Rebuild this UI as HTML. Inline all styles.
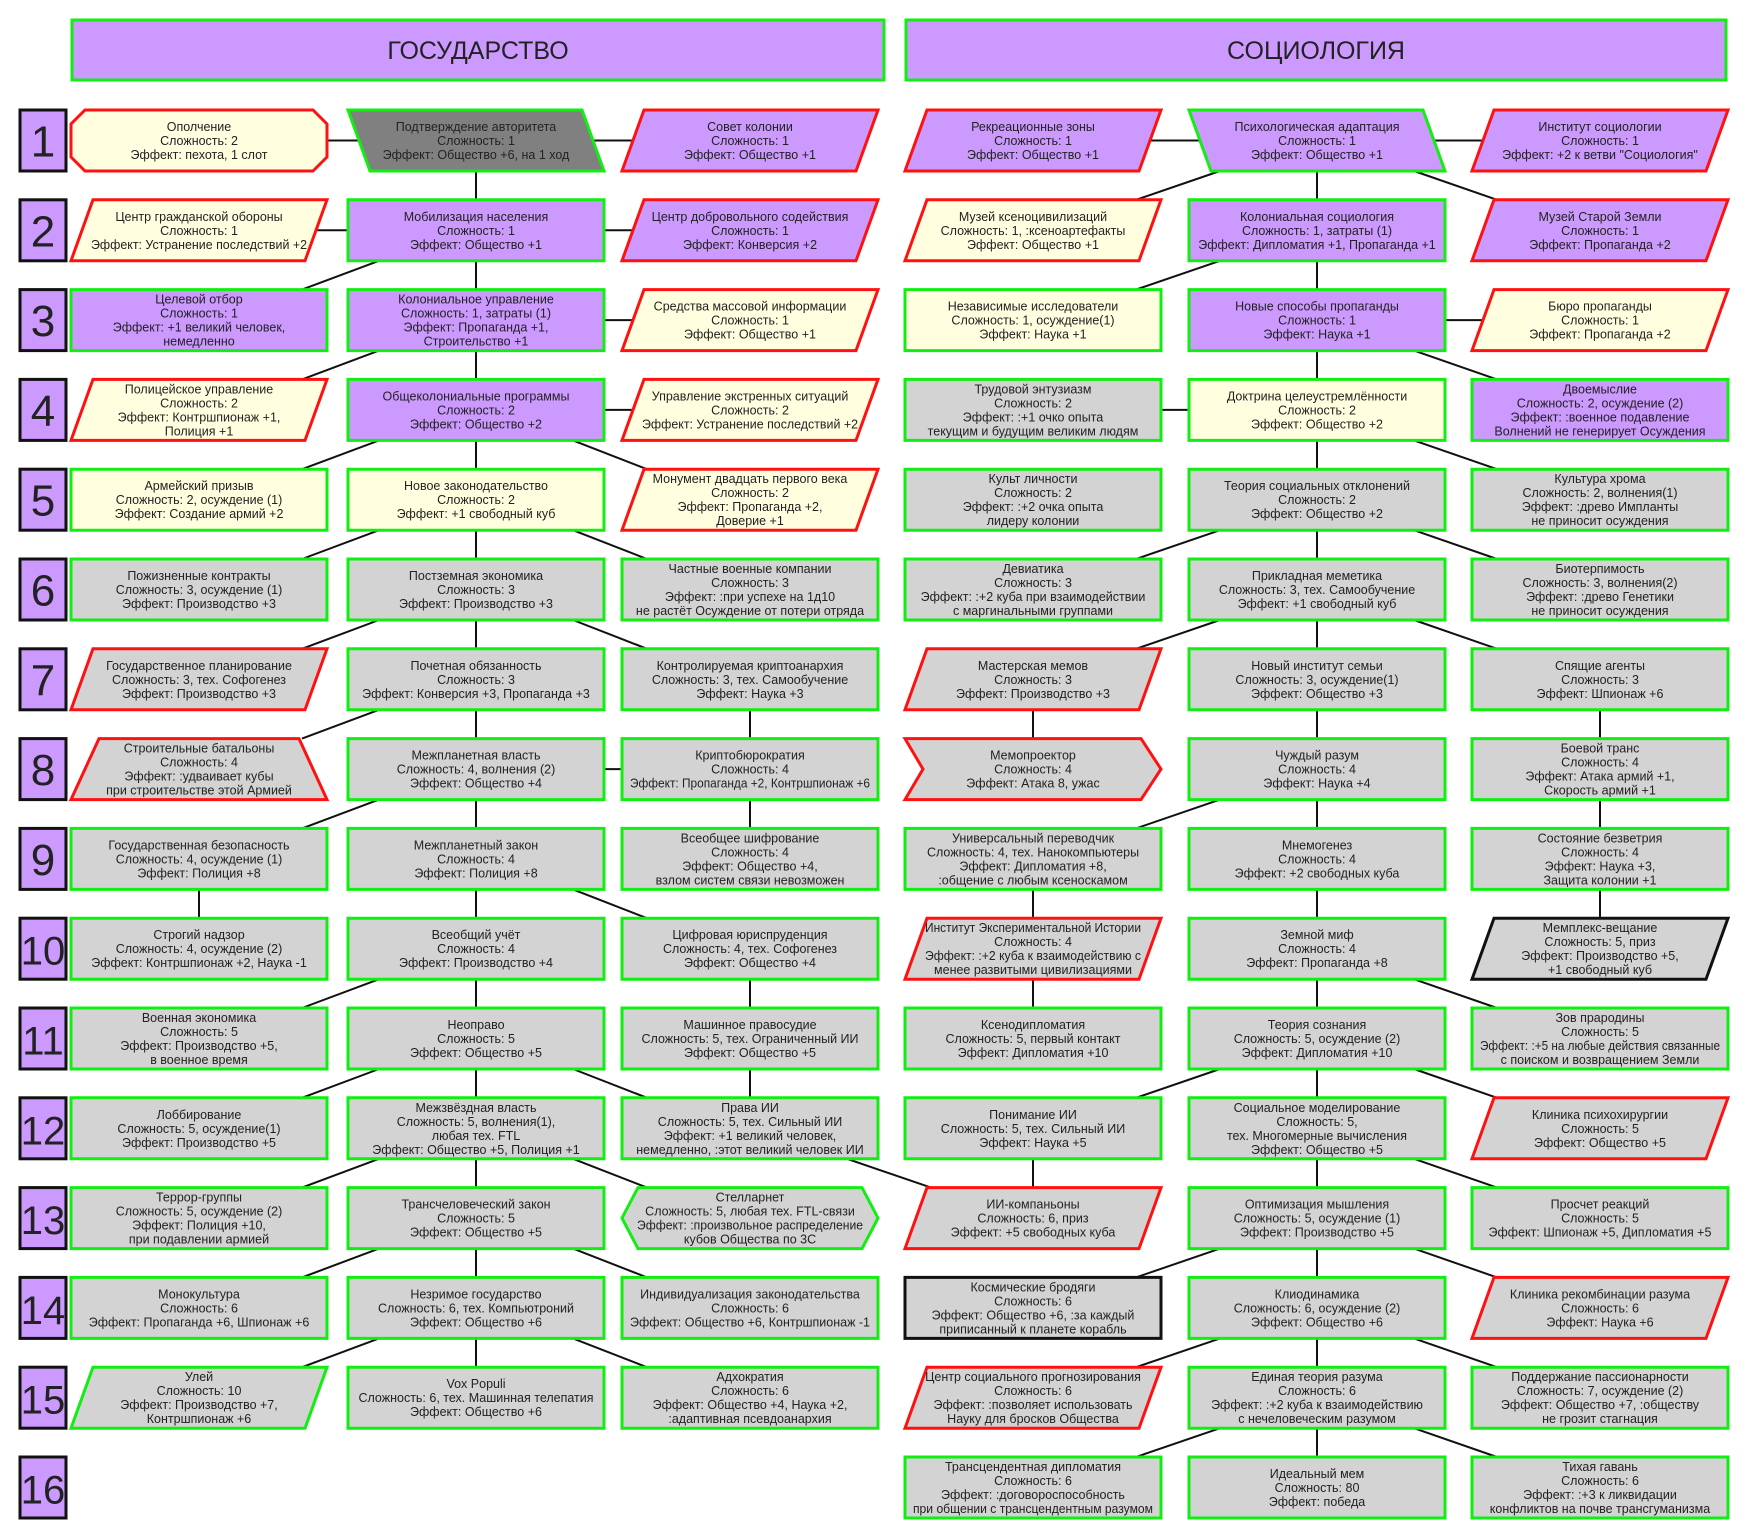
<!DOCTYPE html>
<html><head><meta charset="utf-8">
<style>
html,body{margin:0;padding:0;background:#fff;width:1749px;height:1536px;overflow:hidden}
svg text{font-family:"Liberation Sans Narrow","Liberation Sans",sans-serif;fill:#222}
</style></head><body>
<svg id="s" width="1749" height="1536" viewBox="0 0 1749 1536" xmlns="http://www.w3.org/2000/svg">
<g id="lines" stroke="#111" stroke-width="2"></g>
<g id="nodes"></g>
</svg>
<script>
(function(){
var NS="http://www.w3.org/2000/svg";
var COLX={A:71,B:348,C:622,D:905,E:1189,F:1472},W=256,H=61;
function rowTop(r){return 110+(r-1)*89.8;}
var FILL={u:"#cc99ff",y:"#ffffe0",g:"#d3d3d3",k:"#808080"};
var BORD={G:"#11ee11",R:"#ff1111",K:"#111111"};
var N=[
[1,"A","o","y","R",["Ополчение","Сложность: 2","Эффект: пехота, 1 слот"]],
[1,"B","q","k","G",["Подтверждение авторитета","Сложность: 1","Эффект: Общество +6, на 1 ход"]],
[1,"C","p","u","R",["Совет колонии","Сложность: 1","Эффект: Общество +1"]],
[1,"D","p","u","R",["Рекреационные зоны","Сложность: 1","Эффект: Общество +1"]],
[1,"E","q","u","G",["Психологическая адаптация","Сложность: 1","Эффект: Общество +1"]],
[1,"F","p","u","R",["Институт социологии","Сложность: 1","Эффект: +2 к ветви \"Социология\""]],
[2,"A","p","y","R",["Центр гражданской обороны","Сложность: 1","Эффект: Устранение последствий +2"]],
[2,"B","r","u","G",["Мобилизация населения","Сложность: 1","Эффект: Общество +1"]],
[2,"C","p","u","R",["Центр добровольного содействия","Сложность: 1","Эффект: Конверсия +2"]],
[2,"D","p","y","R",["Музей ксеноцивилизаций","Сложность: 1, :ксеноартефакты","Эффект: Общество +1"]],
[2,"E","r","u","G",["Колониальная социология","Сложность: 1, затраты (1)","Эффект: Дипломатия +1, Пропаганда +1"]],
[2,"F","p","u","R",["Музей Старой Земли","Сложность: 1","Эффект: Пропаганда +2"]],
[3,"A","r","u","G",["Целевой отбор","Сложность: 1","Эффект: +1 великий человек,","немедленно"]],
[3,"B","r","u","G",["Колониальное управление","Сложность: 1, затраты (1)","Эффект: Пропаганда +1,","Строительство +1"]],
[3,"C","p","y","R",["Средства массовой информации","Сложность: 1","Эффект: Общество +1"]],
[3,"D","r","y","G",["Независимые исследователи","Сложность: 1, осуждение(1)","Эффект: Наука +1"]],
[3,"E","r","u","G",["Новые способы пропаганды","Сложность: 1","Эффект: Наука +1"]],
[3,"F","p","y","R",["Бюро пропаганды","Сложность: 1","Эффект: Пропаганда +2"]],
[4,"A","p","y","R",["Полицейское управление","Сложность: 2","Эффект: Контршпионаж +1,","Полиция +1"]],
[4,"B","r","u","G",["Общеколониальные программы","Сложность: 2","Эффект: Общество +2"]],
[4,"C","p","y","R",["Управление экстренных ситуаций","Сложность: 2","Эффект: Устранение последствий +2"]],
[4,"D","r","g","G",["Трудовой энтузиазм","Сложность: 2","Эффект: :+1 очко опыта","текущим и будущим великим людям"]],
[4,"E","r","y","G",["Доктрина целеустремлённости","Сложность: 2","Эффект: Общество +2"]],
[4,"F","r","u","G",["Двоемыслие","Сложность: 2, осуждение (2)","Эффект: :военное подавление","Волнений не генерирует Осуждения"]],
[5,"A","r","y","G",["Армейский призыв","Сложность: 2, осуждение (1)","Эффект: Создание армий +2"]],
[5,"B","r","y","G",["Новое законодательство","Сложность: 2","Эффект: +1 свободный куб"]],
[5,"C","p","y","R",["Монумент двадцать первого века","Сложность: 2","Эффект: Пропаганда +2,","Доверие +1"]],
[5,"D","r","g","G",["Культ личности","Сложность: 2","Эффект: :+2 очка опыта","лидеру колонии"]],
[5,"E","r","g","G",["Теория социальных отклонений","Сложность: 2","Эффект: Общество +2"]],
[5,"F","r","g","G",["Культура хрома","Сложность: 2, волнения(1)","Эффект: :древо Импланты","не приносит осуждения"]],
[6,"A","r","g","G",["Пожизненные контракты","Сложность: 3, осуждение (1)","Эффект: Производство +3"]],
[6,"B","r","g","G",["Постземная экономика","Сложность: 3","Эффект: Производство +3"]],
[6,"C","r","g","G",["Частные военные компании","Сложность: 3","Эффект: :при успехе на 1д10","не растёт Осуждение от потери отряда"]],
[6,"D","r","g","G",["Девиатика","Сложность: 3","Эффект: :+2 куба при взаимодействии","с маргинальными группами"]],
[6,"E","r","g","G",["Прикладная меметика","Сложность: 3, тех. Самообучение","Эффект: +1 свободный куб"]],
[6,"F","r","g","G",["Биотерпимость","Сложность: 3, волнения(2)","Эффект: :древо Генетики","не приносит осуждения"]],
[7,"A","p","g","R",["Государственное планирование","Сложность: 3, тех. Софогенез","Эффект: Производство +3"]],
[7,"B","r","g","G",["Почетная обязанность","Сложность: 3","Эффект: Конверсия +3, Пропаганда +3"]],
[7,"C","r","g","G",["Контролируемая криптоанархия","Сложность: 3, тех. Самообучение","Эффект: Наука +3"]],
[7,"D","p","g","R",["Мастерская мемов","Сложность: 3","Эффект: Производство +3"]],
[7,"E","r","g","G",["Новый институт семьи","Сложность: 3, осуждение(1)","Эффект: Общество +3"]],
[7,"F","r","g","G",["Спящие агенты","Сложность: 3","Эффект: Шпионаж +6"]],
[8,"A","t","g","R",["Строительные батальоны","Сложность: 4","Эффект: :удваивает кубы","при строительстве этой Армией"]],
[8,"B","r","g","G",["Межпланетная власть","Сложность: 4, волнения (2)","Эффект: Общество +4"]],
[8,"C","r","g","G",["Криптобюрократия","Сложность: 4","Эффект: Пропаганда +2, Контршпионаж +6"]],
[8,"D","c","g","R",["Мемопроектор","Сложность: 4","Эффект: Атака 8, ужас"]],
[8,"E","r","g","G",["Чуждый разум","Сложность: 4","Эффект: Наука +4"]],
[8,"F","r","g","G",["Боевой транс","Сложность: 4","Эффект: Атака армий +1,","Скорость армий +1"]],
[9,"A","r","g","G",["Государственная безопасность","Сложность: 4, осуждение (1)","Эффект: Полиция +8"]],
[9,"B","r","g","G",["Межпланетный закон","Сложность: 4","Эффект: Полиция +8"]],
[9,"C","r","g","G",["Всеобщее шифрование","Сложность: 4","Эффект: Общество +4,","взлом систем связи невозможен"]],
[9,"D","r","g","G",["Универсальный переводчик","Сложность: 4, тех. Нанокомпьютеры","Эффект: Дипломатия +8,",":общение с любым ксеноскамом"]],
[9,"E","r","g","G",["Мнемогенез","Сложность: 4","Эффект: +2 свободных куба"]],
[9,"F","r","g","G",["Состояние безветрия","Сложность: 4","Эффект: Наука +3,","Защита колонии +1"]],
[10,"A","r","g","G",["Строгий надзор","Сложность: 4, осуждение (2)","Эффект: Контршпионаж +2, Наука -1"]],
[10,"B","r","g","G",["Всеобщий учёт","Сложность: 4","Эффект: Производство +4"]],
[10,"C","r","g","G",["Цифровая юриспруденция","Сложность: 4, тех. Софогенез","Эффект: Общество +4"]],
[10,"D","p","g","R",["Институт Экспериментальной Истории","Сложность: 4","Эффект: :+2 куба к взаимодействию с","менее развитыми цивилизациями"]],
[10,"E","r","g","G",["Земной миф","Сложность: 4","Эффект: Пропаганда +8"]],
[10,"F","p","g","K",["Мемплекс-вещание","Сложность: 5, приз","Эффект: Производство +5,","+1 свободный куб"]],
[11,"A","r","g","G",["Военная экономика","Сложность: 5","Эффект: Производство +5,","в военное время"]],
[11,"B","r","g","G",["Неоправо","Сложность: 5","Эффект: Общество +5"]],
[11,"C","r","g","G",["Машинное правосудие","Сложность: 5, тех. Ограниченный ИИ","Эффект: Общество +5"]],
[11,"D","r","g","G",["Ксенодипломатия","Сложность: 5, первый контакт","Эффект: Дипломатия +10"]],
[11,"E","r","g","G",["Теория сознания","Сложность: 5, осуждение (2)","Эффект: Дипломатия +10"]],
[11,"F","r","g","G",["Зов прародины","Сложность: 5","Эффект: :+5 на любые действия связанные","с поиском и возвращением Земли"]],
[12,"A","r","g","G",["Лоббирование","Сложность: 5, осуждение(1)","Эффект: Производство +5"]],
[12,"B","r","g","G",["Межзвёздная власть","Сложность: 5, волнения(1),","любая тех. FTL","Эффект: Общество +5, Полиция +1"]],
[12,"C","r","g","G",["Права ИИ","Сложность: 5, тех. Сильный ИИ","Эффект: +1 великий человек,","немедленно, :этот великий человек ИИ"]],
[12,"D","r","g","G",["Понимание ИИ","Сложность: 5, тех. Сильный ИИ","Эффект: Наука +5"]],
[12,"E","r","g","G",["Социальное моделирование","Сложность: 5,","тех. Многомерные вычисления","Эффект: Общество +5"]],
[12,"F","p","g","R",["Клиника психохирургии","Сложность: 5","Эффект: Общество +5"]],
[13,"A","r","g","G",["Террор-группы","Сложность: 5, осуждение (2)","Эффект: Полиция +10,","при подавлении армией"]],
[13,"B","r","g","G",["Трансчеловеческий закон","Сложность: 5","Эффект: Общество +5"]],
[13,"C","h","g","G",["Стелларнет","Сложность: 5, любая тех. FTL-связи","Эффект: :произвольное распределение","кубов Общества по 3С"]],
[13,"D","p","g","R",["ИИ-компаньоны","Сложность: 6, приз","Эффект: +5 свободных куба"]],
[13,"E","r","g","G",["Оптимизация мышления","Сложность: 5, осуждение (1)","Эффект: Производство +5"]],
[13,"F","r","g","G",["Просчет реакций","Сложность: 5","Эффект: Шпионаж +5, Дипломатия +5"]],
[14,"A","r","g","G",["Монокультура","Сложность: 6","Эффект: Пропаганда +6, Шпионаж +6"]],
[14,"B","r","g","G",["Незримое государство","Сложность: 6, тех. Компьютроний","Эффект: Общество +6"]],
[14,"C","r","g","G",["Индивидуализация законодательства","Сложность: 6","Эффект: Общество +6, Контршпионаж -1"]],
[14,"D","r","g","K",["Космические бродяги","Сложность: 6","Эффект: Общество +6, :за каждый","приписанный к планете корабль"]],
[14,"E","r","g","G",["Клиодинамика","Сложность: 6, осуждение (2)","Эффект: Общество +6"]],
[14,"F","p","g","R",["Клиника рекомбинации разума","Сложность: 6","Эффект: Наука +6"]],
[15,"A","p","g","G",["Улей","Сложность: 10","Эффект: Производство +7,","Контршпионаж +6"]],
[15,"B","r","g","G",["Vox Populi","Сложность: 6, тех. Машинная телепатия","Эффект: Общество +6"]],
[15,"C","r","g","G",["Адхократия","Сложность: 6","Эффект: Общество +4, Наука +2,",":адаптивная псевдоанархия"]],
[15,"D","p","g","R",["Центр социального прогнозирования","Сложность: 6","Эффект: :позволяет использовать","Науку для бросков Общества"]],
[15,"E","r","g","G",["Единая теория разума","Сложность: 6","Эффект: :+2 куба к взаимодействию","с нечеловеческим разумом"]],
[15,"F","r","g","G",["Поддержание пассионарности","Сложность: 7, осуждение (2)","Эффект: Общество +7, :обществу","не грозит стагнация"]],
[16,"D","r","g","G",["Трансцендентная дипломатия","Сложность: 6","Эффект: :договороспособность","при общении с трансцендентным разумом"]],
[16,"E","r","g","G",["Идеальный мем","Сложность: 80","Эффект: победа"]],
[16,"F","r","g","G",["Тихая гавань","Сложность: 6","Эффект: :+3 к ликвидации","конфликтов на почве трансгуманизма"]]
];
var L=document.getElementById("lines"),G=document.getElementById("nodes");
function el(t,a,p){var e=document.createElementNS(NS,t);for(var k in a)e.setAttribute(k,a[k]);(p||G).appendChild(e);return e;}
function line(x1,y1,x2,y2){el("line",{x1:x1,y1:y1,x2:x2,y2:y2},L);}
function cx(c){return COLX[c]+W/2;}
el("rect",{x:72,y:20,width:812,height:60,fill:"#cc99ff",stroke:"#11ee11","stroke-width":3});
el("rect",{x:906,y:20,width:820,height:60,fill:"#cc99ff",stroke:"#11ee11","stroke-width":3});
var t1=el("text",{x:478,y:59,"text-anchor":"middle","font-size":25});t1.textContent="ГОСУДАРСТВО";
var t2=el("text",{x:1316,y:59,"text-anchor":"middle","font-size":25});t2.textContent="СОЦИОЛОГИЯ";
for(var r=1;r<=16;r++){var y=rowTop(r);
 el("rect",{x:20,y:y,width:46,height:H,fill:"#cc99ff",stroke:"#111","stroke-width":3});
 var tn=el("text",{x:43,y:y+H/2+16,"text-anchor":"middle","font-size":(r>=10?40:44),style:"font-family:'Liberation Sans',sans-serif"});tn.textContent=String(r);
}
function Hh(r,a,b){var y=rowTop(r)+H/2;line(cx(a),y,cx(b),y);}
function V(r,c){line(cx(c),rowTop(r)+H,cx(c),rowTop(r+1));}
function DL(r,c,t){line(cx(c)-97,rowTop(r)+H,cx(t)+103,rowTop(r+1));}
function DR(r,c,t){line(cx(c)+97,rowTop(r)+H,cx(t)-103,rowTop(r+1));}
[[1,"A","B"],[1,"B","C"],[1,"D","E"],[1,"E","F"],[2,"A","B"],[2,"B","C"],[3,"B","C"],[3,"E","F"],[4,"B","C"],[4,"D","E"],[8,"B","C"]].forEach(function(a){Hh(a[0],a[1],a[2]);});
var i;
for(i=1;i<=14;i++)V(i,"B");
for(i=1;i<=15;i++)V(i,"E");
[9].forEach(function(r){V(r,"A");});
[7,8,10,11].forEach(function(r){V(r,"C");});
[7,9,10,12].forEach(function(r){V(r,"D");});
[7,8,9].forEach(function(r){V(r,"F");});
[2,3,4,5,6,7,8,10,11,12,13,14].forEach(function(r){DL(r,"B","A");});
[4,5,6,9,11,12,13,14].forEach(function(r){DR(r,"B","C");});
[1,2,5,6,8,11,13,14,15].forEach(function(r){DL(r,"E","D");});
[1,3,4,5,6,10,11,12,13,14,15].forEach(function(r){DR(r,"E","F");});
line(847,rowTop(12)+H,931,rowTop(13));
N.forEach(function(n){
 var x=COLX[n[1]],y=rowTop(n[0]),w=W,h=H,s,p,maxw=w-16;
 switch(n[2]){
  case "r":p=[[x,y],[x+w,y],[x+w,y+h],[x,y+h]];break;
  case "p":s=22;maxw=w-40;p=[[x+s,y],[x+w,y],[x+w-s,y+h],[x,y+h]];break;
  case "q":s=22;maxw=w-40;p=[[x,y],[x+w-s,y],[x+w,y+h],[x+s,y+h]];break;
  case "h":s=16;maxw=w-30;p=[[x+s,y],[x+w-s,y],[x+w,y+h/2],[x+w-s,y+h],[x+s,y+h],[x,y+h/2]];break;
  case "o":s=14;p=[[x+s,y],[x+w-s,y],[x+w,y+s],[x+w,y+h-s],[x+w-s,y+h],[x+s,y+h],[x,y+h-s],[x,y+s]];break;
  case "t":s=28;maxw=w-40;p=[[x+s,y],[x+w-s,y],[x+w,y+h],[x,y+h]];break;
  case "c":maxw=w-40;p=[[x,y],[x+w-20,y],[x+w,y+h/2],[x+w-20,y+h],[x,y+h],[x+18,y+h/2]];break;
 }
 el("polygon",{points:p.map(function(q){return q.join(",");}).join(" "),fill:FILL[n[3]],stroke:BORD[n[4]],"stroke-width":3});
 var ls=n[5],lh=14,y0=y+h/2-(ls.length-1)*lh/2+4.5;
 ls.forEach(function(t,j){
  var te=el("text",{x:x+w/2,y:y0+j*lh,"text-anchor":"middle","font-size":12.5});
  te.textContent=t;
  try{var len=te.getComputedTextLength();if(len>maxw){te.setAttribute("textLength",maxw);te.setAttribute("lengthAdjust","spacingAndGlyphs");}}catch(e){}
 });
});
})();
</script>
</body></html>
